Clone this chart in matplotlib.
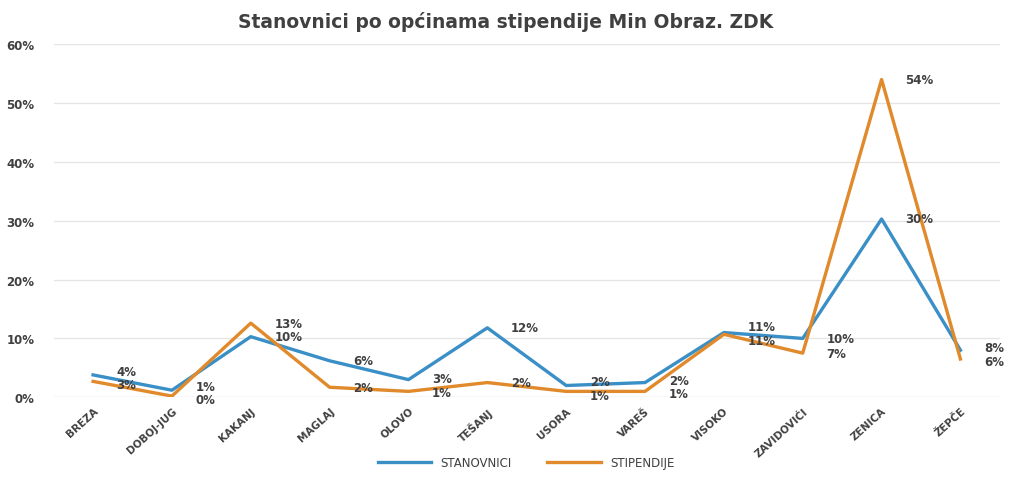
import matplotlib.pyplot as plt
from matplotlib.ticker import FuncFormatter

opcine = ['BREZA', 'DOBOJ-JUG', 'KAKANJ', 'MAGLAJ', 'OLOVO', 'TEŠANJ', 'USORA',
          'VAREŠ', 'VISOKO', 'ZAVIDOVIĆI', 'ZENICA', 'ŽEPČE']
stanovnici = [3.8, 1.2, 10.3, 6.2, 3.0, 11.8, 2.0, 2.5, 11.0, 10.0, 30.3, 8.0]
stipendije = [2.7, 0.2, 12.6, 1.7, 1.0, 2.5, 1.0, 1.0, 10.7, 7.5, 54.0, 6.5]
stan_lbl = ['4%', '1%', '10%', '6%', '3%', '12%', '2%', '2%', '11%', '10%', '30%', '8%']
stip_lbl = ['3%', '0%', '13%', '2%', '1%', '2%', '1%', '1%', '11%', '7%', '54%', '6%']

BLUE = '#3a8fc6'
ORANGE = '#e08a2c'
TXT = '#404040'

fig = plt.figure(figsize=(10.12, 4.81), dpi=100)
ax = fig.add_axes([0.053, 0.172, 0.935, 0.734])

x = list(range(len(opcine)))
ax.plot(x, stanovnici, color=BLUE, lw=2.4, label='STANOVNICI', zorder=3)
ax.plot(x, stipendije, color=ORANGE, lw=2.4, label='STIPENDIJE', zorder=3)

MIN_GAP = 2.3
for i in x:
    a, b = stanovnici[i], stipendije[i]
    # push the two labels apart when they sit close together
    gap = abs(a - b)
    d = (MIN_GAP - gap) / 2 if gap < MIN_GAP else 0
    if a >= b:
        da, db = d, -d
    else:
        da, db = -d, d
    ax.annotate(stan_lbl[i], (i, a + da), xytext=(17, 0), textcoords='offset points',
                va='center', ha='left', fontsize=8.5, color=TXT, fontweight='bold',
                annotation_clip=False)
    ax.annotate(stip_lbl[i], (i, b + db), xytext=(17, 0), textcoords='offset points',
                va='center', ha='left', fontsize=8.5, color=TXT, fontweight='bold',
                annotation_clip=False)

ax.set_xlim(-0.5, len(opcine) - 0.5)
ax.set_ylim(0, 60)
ax.set_yticks(range(0, 61, 10))
ax.yaxis.set_major_formatter(FuncFormatter(lambda v, p: f'{v:.0f}%'))
ax.set_xticks(x)
ax.set_xticklabels(opcine, rotation=42, ha='right', rotation_mode='anchor',
                   fontsize=7.5, color=TXT, fontweight='bold')
ax.tick_params(axis='y', labelsize=8.5, labelcolor=TXT, length=0, pad=14)
ax.tick_params(axis='x', length=0, pad=6)
for lab in ax.get_yticklabels():
    lab.set_fontweight('bold')
ax.grid(axis='y', color='#e4e4e4', lw=0.9)
ax.set_axisbelow(True)
for s in ax.spines.values():
    s.set_visible(False)
ax.axhline(0, color='#d9d9d9', lw=0.9, zorder=1)

fig.suptitle('Stanovnici po općinama stipendije Min Obraz. ZDK', y=0.975,
             fontsize=13.5, fontweight='bold', color=TXT)
fig.legend(loc='lower center', ncol=2, bbox_to_anchor=(0.52, 0.0), frameon=False,
           fontsize=8.5, handlelength=4.5, columnspacing=3,
           labelcolor=TXT)

fig.savefig('out.png', dpi=100)
